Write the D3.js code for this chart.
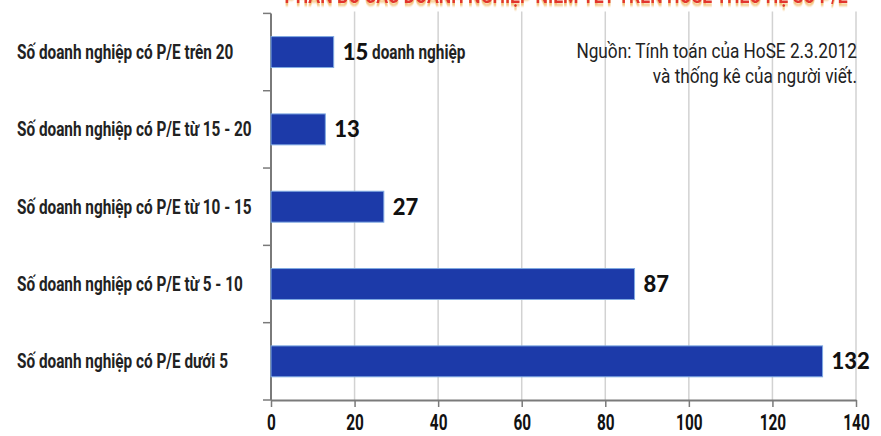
<!DOCTYPE html>
<html>
<head>
<meta charset="utf-8">
<script src="https://cdn.jsdelivr.net/npm/d3@7/dist/d3.min.js"></script>
<style>
  html, body { margin: 0; padding: 0; background: #fff; }
  svg { display: block; }
</style>
</head>
<body>
<svg id="chart" width="881" height="436"></svg>
<script>
// ---- data ----
const categories = [
  "Số doanh nghiệp có P/E trên 20",
  "Số doanh nghiệp có P/E từ 15 - 20",
  "Số doanh nghiệp có P/E từ 10 - 15",
  "Số doanh nghiệp có P/E từ 5 - 10",
  "Số doanh nghiệp có P/E dưới 5"
];
const values = [15, 13, 27, 87, 132];
const valueSuffixes = [" doanh nghiệp", "", "", "", ""];
const xTicks = [0, 20, 40, 60, 80, 100, 120, 140];
const sourceLines = ["Nguồn: Tính toán của HoSE 2.3.2012", "và thống kê của người viết."];
const titleText = "PHÂN BỐ CÁC DOANH NGHIỆP NIÊM YẾT TRÊN HOSE THEO HỆ SỐ P/E";

// ---- layout ----
const svg = d3.select("#chart");
const x = d3.scaleLinear().domain([0, 140]).range([271, 856]);
const y = d3.scaleBand().domain(categories).range([13.4, 400]).paddingInner(0.6).paddingOuter(0.3);

const condensedLabel = "Roboto, 'Open Sans', sans-serif";

// orange shadow filter for the (cropped) title
const defs = svg.append("defs");
defs.append("filter").attr("id", "titleShadow")
  .attr("x", "-5%").attr("y", "-50%").attr("width", "110%").attr("height", "200%")
  .append("feDropShadow")
  .attr("dx", 0).attr("dy", 3).attr("stdDeviation", 0.8)
  .attr("flood-color", "#f4c27c").attr("flood-opacity", 1);

// cropped title at very top
svg.append("text")
  .attr("transform", "translate(566,3) scale(0.8,1)")
  .attr("text-anchor", "middle")
  .attr("filter", "url(#titleShadow)")
  .style("font-family", condensedLabel).style("font-weight", 700).style("font-size", "22px")
  .attr("fill", "#e2362e").text(titleText);

// gridlines
svg.append("g").selectAll("line")
  .data(xTicks.filter(d => d > 0))
  .join("line")
  .attr("x1", d => x(d)).attr("x2", d => x(d))
  .attr("y1", y.range()[0] - 2).attr("y2", y.range()[1])
  .attr("stroke", "#d2d2d2").attr("stroke-width", 1.5);

// x axis
const xAxis = d3.axisBottom(x).tickValues(xTicks).tickSizeInner(7).tickSizeOuter(0).tickPadding(7);
const gx = svg.append("g").attr("transform", `translate(0,${y.range()[1]})`).call(xAxis);
gx.select(".domain").attr("stroke", "#7a7a7a").attr("stroke-width", 2);
gx.selectAll(".tick line").attr("stroke", "#7a7a7a").attr("stroke-width", 1.5);
gx.selectAll(".tick text")
  .attr("transform", "scale(0.7,1)")
  .style("font-family", condensedLabel).style("font-weight", 700).style("font-size", "22px")
  .attr("fill", "#111");

// y axis line + boundary ticks
const bounds = d3.range(categories.length + 1).map(i => y.range()[0] + i * y.step());
svg.append("line")
  .attr("x1", x(0)).attr("x2", x(0))
  .attr("y1", y.range()[0]).attr("y2", y.range()[1])
  .attr("stroke", "#7a7a7a").attr("stroke-width", 2);
svg.append("g").selectAll("line")
  .data(bounds)
  .join("line")
  .attr("x1", x(0) - 8).attr("x2", x(0))
  .attr("y1", d => d).attr("y2", d => d)
  .attr("stroke", "#7a7a7a").attr("stroke-width", 1.5);

// category labels
svg.append("g").selectAll("text")
  .data(categories)
  .join("text")
  .attr("transform", d => `translate(17,${y(d) + y.bandwidth() / 2 + 7}) scale(0.73,1)`)
  .style("font-family", condensedLabel).style("font-weight", 700).style("font-size", "21px")
  .attr("fill", "#222")
  .text(d => d);

// bars
svg.append("g").selectAll("rect")
  .data(values)
  .join("rect")
  .attr("x", x(0))
  .attr("y", (d, i) => y(categories[i]))
  .attr("width", d => x(d) - x(0))
  .attr("height", y.bandwidth())
  .attr("fill", "#1c3aa9")
  .attr("stroke", "#7fa9e2").attr("stroke-width", 1);

// value labels
const vl = svg.append("g").selectAll("g")
  .data(values)
  .join("g")
  .attr("transform", (d, i) => `translate(${x(d) + 9},${y(categories[i]) + y.bandwidth() / 2 + 8})`);
vl.append("text")
  .attr("class", "num")
  .style("font-family", "Lato, 'Open Sans', sans-serif").style("font-weight", 900).style("font-size", "22px")
  .attr("fill", "#111")
  .text(d => d);
vl.each(function(d, i) {
  if (!valueSuffixes[i]) return;
  const g = d3.select(this);
  const w = g.select("text.num").node().getComputedTextLength();
  g.append("text")
    .attr("transform", `translate(${w},-1) scale(0.73,1)`)
    .style("font-family", condensedLabel).style("font-weight", 700).style("font-size", "21px")
    .style("white-space", "pre")
    .attr("fill", "#222")
    .text(valueSuffixes[i]);
});

// source note
svg.append("g").selectAll("text")
  .data(sourceLines)
  .join("text")
  .attr("transform", (d, i) => `translate(857,${58 + i * 25}) scale(0.82,1)`)
  .attr("text-anchor", "end")
  .style("font-family", condensedLabel).style("font-weight", 400).style("font-size", "21px")
  .attr("fill", "#222")
  .text(d => d);
</script>
</body>
</html>
